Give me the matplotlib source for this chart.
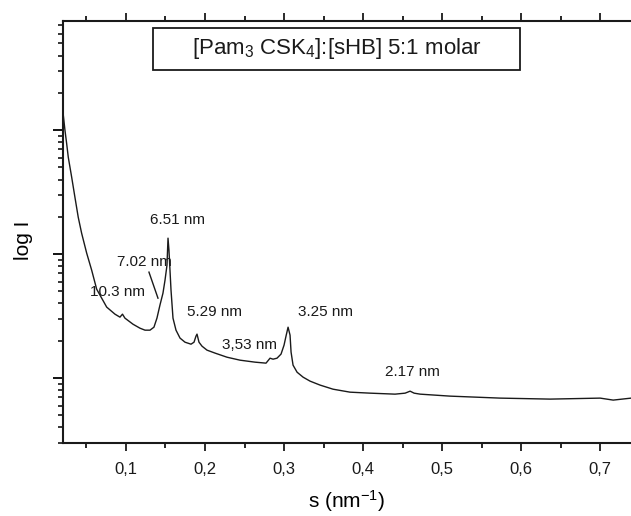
import numpy as np
import matplotlib
matplotlib.use("Agg")
import matplotlib.pyplot as plt
from matplotlib.ticker import MultipleLocator, FuncFormatter, LogLocator, NullFormatter
from matplotlib.patches import Rectangle

plt.rcParams['font.family'] = ['Liberation Sans', 'DejaVu Sans']
plt.rcParams['mathtext.fontset'] = 'custom'
plt.rcParams['mathtext.rm'] = 'Liberation Sans'
plt.rcParams['mathtext.it'] = 'Liberation Sans:italic'
plt.rcParams['mathtext.default'] = 'regular'

# scattering curve (s in nm^-1, log10 of intensity)
s = [0.0203, 0.0228, 0.0249, 0.0270, 0.0313, 0.0354, 0.0396, 0.0439, 0.0503,
     0.0566, 0.0629, 0.0756, 0.0861, 0.0924, 0.0956, 0.0987, 0.1089, 0.1177,
     0.1241, 0.1304, 0.1354, 0.1392, 0.1430, 0.1468, 0.1494, 0.1519, 0.1532,
     0.1544, 0.1570, 0.1595, 0.1633, 0.1684, 0.1747, 0.1823, 0.1861, 0.1886,
     0.1899, 0.1924, 0.1962, 0.2025, 0.2127, 0.2278, 0.2443, 0.2633, 0.2772,
     0.2823, 0.2861, 0.2911, 0.2962, 0.3000, 0.3025, 0.3051, 0.3076, 0.3089,
     0.3114, 0.3165, 0.3241, 0.3329, 0.3456, 0.3620, 0.3835, 0.4089, 0.4405,
     0.4532, 0.4595, 0.4646, 0.4722, 0.5101, 0.5734, 0.6367, 0.7000, 0.7165,
     0.7278, 0.7392]
log_i = [2.145, 2.000, 1.895, 1.782, 1.621, 1.460, 1.298, 1.169, 1.008,
         0.871, 0.718, 0.573, 0.516, 0.492, 0.516, 0.484, 0.435, 0.403,
         0.387, 0.387, 0.411, 0.484, 0.589, 0.685, 0.790, 0.911, 1.129,
         1.032, 0.710, 0.484, 0.387, 0.323, 0.290, 0.274, 0.290, 0.339,
         0.355, 0.290, 0.258, 0.226, 0.202, 0.169, 0.145, 0.129, 0.121,
         0.161, 0.153, 0.161, 0.194, 0.266, 0.339, 0.411, 0.347, 0.210,
         0.105, 0.048, 0.008, -0.024, -0.056, -0.089, -0.113, -0.121, -0.129,
         -0.121, -0.105, -0.121, -0.129, -0.145, -0.161, -0.169, -0.161, -0.177,
         -0.169, -0.161]

# peak labels: text, s position, intensity position
peak_labels = ["6.51 nm", "7.02 nm", "10.3 nm", "5.29 nm", "3,53 nm", "3.25 nm", "2.17 nm"]
label_s = [0.1646, 0.1228, 0.0899, 0.2114, 0.2557, 0.3519, 0.4620]
label_i = [18.8, 8.6, 4.94, 3.41, 1.85, 3.41, 1.12]

x_ticks = [0.1, 0.2, 0.3, 0.4, 0.5, 0.6, 0.7]

intensity = 10 ** np.array(log_i)

fig = plt.figure(figsize=(6.31, 5.16), dpi=100)
ax = fig.add_axes([0.0998, 0.1415, 0.9002, 0.8175])

ax.plot(s, intensity, color='#1a1a1a', lw=1.0)
ax.set_yscale('log')
ax.set_xlim(0.0203, 0.739)
ax.set_ylim(0.30, 757)

ax.set_xticks(x_ticks)
ax.xaxis.set_minor_locator(MultipleLocator(0.05))
ax.xaxis.set_major_formatter(FuncFormatter(lambda v, p: f"{v:.1f}".replace('.', ',')))
ax.yaxis.set_major_locator(LogLocator(base=10, numticks=10))
ax.yaxis.set_minor_locator(LogLocator(base=10, subs=np.arange(2, 10), numticks=20))
ax.yaxis.set_major_formatter(NullFormatter())
ax.yaxis.set_minor_formatter(NullFormatter())

ax.spines['right'].set_visible(False)
for side in ['left', 'bottom', 'top']:
    ax.spines[side].set_linewidth(1.5)
    ax.spines[side].set_color('#1a1a1a')

ax.tick_params(axis='x', which='major', direction='out', top=True, length=6, width=1.3,
               labelsize=12, pad=8, colors='#1a1a1a')
ax.tick_params(axis='x', which='minor', direction='out', top=True, length=3.5, width=1.2)
ax.tick_params(axis='y', which='major', direction='out', right=False, length=7, width=1.3)
ax.tick_params(axis='y', which='minor', direction='out', right=False, length=3.5, width=1.1)

ax.set_xlabel('s (nm$^{-1}$)', fontsize=15, labelpad=8)
ax.set_ylabel('log I', fontsize=15)
ax.yaxis.set_label_coords(-0.052, 0.48)

for txt, xs, yi in zip(peak_labels, label_s, label_i):
    ax.text(xs, yi, txt, fontsize=11, ha='center', va='center', color='#1a1a1a')

# leader line from the 7.02 nm label to the shoulder
ax.plot([0.1291, 0.1405], [10 ** 0.855, 10 ** 0.645], color='#1a1a1a', lw=1.0)

ax.add_patch(Rectangle((0.1585, 0.884), 0.646, 0.0995, transform=ax.transAxes,
                       fill=False, edgecolor='#1a1a1a', lw=1.3))
ax.text(0.4815, 0.934, '[Pam$_3$ CSK$_4$]:[sHB] 5:1 molar', transform=ax.transAxes,
        fontsize=16, ha='center', va='center', color='#1a1a1a')

fig.savefig('out.png', dpi=100)
